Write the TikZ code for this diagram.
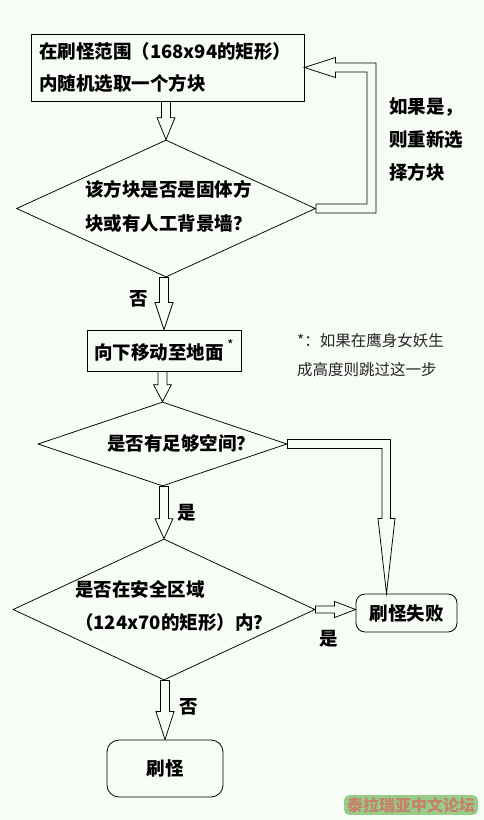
\documentclass[tikz,border=0pt]{standalone}
\usepackage{fontspec}
\setmainfont{Noto Sans CJK SC}
\usetikzlibrary{shapes.geometric,calc}
\definecolor{bg}{RGB}{248,252,246}
\definecolor{wmtext}{RGB}{200,128,108}
\definecolor{wmglow}{RGB}{150,206,136}
% vertical hollow arrow: from, to, head length
\newcommand{\vhollow}[3]{%
  \draw[conn] let \p1=(#1), \p2=(#2) in
    (\x2-4.5pt,\y1) -- (\x2-4.5pt,\y2+#3) -- (\x2-9pt,\y2+#3) -- (\x2,\y2)
    -- (\x2+9pt,\y2+#3) -- (\x2+4.5pt,\y2+#3) -- (\x2+4.5pt,\y1) -- cycle;}
\begin{document}
\begin{tikzpicture}[x=1pt,y=-1pt,
  conn/.style={draw=black,line width=0.75pt,line join=miter},
  procbox/.style={draw=black,line width=0.8pt,rectangle,inner sep=0pt},
  endbox/.style={draw=black,line width=0.8pt,rectangle,rounded corners=11pt,inner sep=0pt},
  decision/.style={draw=black,line width=0.75pt,diamond,inner sep=0pt},
  btext/.style={font=\bfseries\fontsize{18.5}{32}\selectfont,inner sep=0pt},
  lbl/.style={font=\bfseries\fontsize{18.5}{22}\selectfont,inner sep=0pt},
  note/.style={font=\fontsize{15.5}{29}\selectfont,inner sep=0pt,align=left,text=black!85}]
\fill[bg] (0,0) rectangle (484,820);
\useasboundingbox (0,0) rectangle (484,820);

% nodes
\node[procbox,btext,minimum width=273pt,minimum height=67pt,text width=257pt,align=left,inner xsep=8pt]
  (b1) at (167.5,67.5) {在刷怪范围（168x94的矩形）\\内随机选取一个方块};
\node[decision,minimum width=299pt,minimum height=137pt] (d1) at (166,208.5) {};
\node[btext,align=left,anchor=west,font=\bfseries\fontsize{18.5}{34}\selectfont] (d1t) at (85,206)
  {该方块是否是固体方\\块或有人工背景墙？};
\node[btext,align=left,anchor=west,font=\bfseries\fontsize{18.5}{33}\selectfont] (loopt) at (389,140)
  {如果是，\\则重新选\\择方块};
\node[lbl] (no1) at (139,299) {否};
\node[procbox,btext,minimum width=154pt,minimum height=41pt] (b2) at (164,350.5)
  {向下移动至地面\,\raisebox{0.45em}{\mdseries\fontsize{14}{14}\selectfont *}};
\node[note,anchor=west] (noteT) at (297,355) {*：如果在鹰身女妖生\\成高度则跳过这一步};
\node[decision,minimum width=249pt,minimum height=84pt] (d2) at (162.5,444) {};
\node[btext,anchor=west] (d2t) at (107,443) {是否有足够空间？};
\node[lbl] (yes1) at (187,513) {是};
\node[decision,minimum width=302pt,minimum height=141pt] (d3) at (164,609.5) {};
\node[btext,align=left,anchor=west,font=\bfseries\fontsize{18.5}{33}\selectfont] (d3t) at (75,606)
  {是否在安全区域\\（124x70的矩形）内？};
\node[endbox,btext,minimum width=101pt,minimum height=38pt,rounded corners=9pt] (fail) at (406.5,613) {刷怪失败};
\node[lbl] (yes2) at (329,639) {是};
\node[lbl] (no2) at (189,707) {否};
\node[endbox,btext,minimum width=116pt,minimum height=57pt,rounded corners=12pt] (spawn) at (165,768.5) {刷怪};
\node[fill=wmglow,rounded corners=5pt,inner xsep=3pt,inner ysep=2pt,text=wmtext,
  font=\bfseries\fontsize{16}{18}\selectfont] (wm) at (411,805) {泰拉瑞亚中文论坛};

% connectors
\vhollow{b1.south}{d1.north}{22pt}
\vhollow{d1.south}{b2.north}{27pt}
\vhollow{b2.south}{d2.north}{17pt}
\vhollow{d2.south}{d3.north}{20pt}
\vhollow{d3.south}{spawn.north}{28pt}

% loop back: d1 -> b1
\draw[conn] let \p1=(d1.east), \p2=(b1.east) in
  (\x1,\y1-4.5pt) -- (\x1+60pt,\y1-4.5pt) -- (\x1+60pt,\y2+4.5pt) -- (\x2+31pt,\y2+4.5pt)
  -- (\x2+31pt,\y2+10pt) -- (\x2,\y2) -- (\x2+31pt,\y2-10pt) -- (\x2+31pt,\y2-4.5pt)
  -- (\x1+51pt,\y2-4.5pt) -- (\x1+51pt,\y1+4.5pt) -- (\x1,\y1+4.5pt) -- cycle;

% d2 -> fail
\draw[conn] let \p1=(d2.east), \p2=(fail.north) in
  (\x1,\y1+4.5pt) -- (\x2-16pt,\y1+4.5pt) -- (\x2-16pt,\y2+75pt) -- (\x2-11.5pt,\y2+75pt)
  -- (\x2-20pt,\y2) -- (\x2-28.5pt,\y2+75pt) -- (\x2-24.5pt,\y2+75pt) -- (\x2-24.5pt,\y1-4.5pt)
  -- (\x1,\y1-4.5pt) -- cycle;

% d3 -> fail
\draw[conn] let \p1=(d3.east), \p2=(fail.west) in
  (\x1,\y1+3.5pt) -- (\x2-21pt,\y1+3.5pt) -- (\x2-21pt,\y1+8pt) -- (\x2,\y1)
  -- (\x2-21pt,\y1-8pt) -- (\x2-21pt,\y1-3.5pt) -- (\x1,\y1-3.5pt) -- cycle;
\end{tikzpicture}
\end{document}
